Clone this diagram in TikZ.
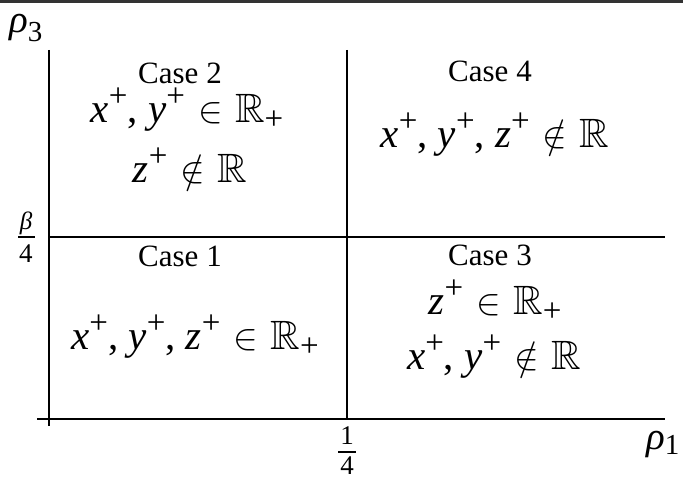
\documentclass[tikz,border=0pt]{standalone}
\usepackage{amssymb}
\usepackage{fontspec}
\setmainfont{Liberation Serif}
\newcommand\plsup{\raisebox{0.4em}{\fontsize{33}{33}\selectfont +}}
\newcommand\plsub{\raisebox{-0.17em}{\fontsize{33}{33}\selectfont +}}
\newcommand\vx{\textit{x}\plsup}
\newcommand\vy{\textit{y}\plsup}
\newcommand\vz{\textit{z}\plsup}
\newcommand\inrel{\hspace{0.32em}\scalebox{3.7}{\fontsize{10}{12}\selectfont$\in$}\hspace{0.3em}}
\newcommand\ninrel{\hspace{0.32em}\scalebox{3.7}{\fontsize{10}{12}\selectfont$\notin$}\hspace{0.3em}}
\newcommand\RR{{\usefont{U}{msb}{m}{n}R}}
\begin{document}
\begin{tikzpicture}[x=1pt,y=1pt,
  axis/.style={line width=1.2pt, black},
  casetxt/.style={font=\fontsize{31}{34}\selectfont, anchor=base, inner sep=0pt},
  mathtxt/.style={font=\fontsize{41}{45}\selectfont, anchor=base, inner sep=0pt},
  rholab/.style={font=\fontsize{39}{42}\selectfont\itshape, anchor=base west, inner sep=0pt},
  fraclab/.style={font=\fontsize{27}{30}\selectfont, anchor=base, inner sep=0pt},
  fracbar/.style={line width=2pt, black},
]
\useasboundingbox (0,0) rectangle (683,479);
\draw[line width=3pt, black!80] (0,477.5) -- (683,477.5);
% axes
\coordinate (vtop) at (49,429);
\coordinate (vbot) at (49,53);
\coordinate (hleft) at (37,60);
\coordinate (hright) at (665,60);
\coordinate (mtop) at (347,429);
\coordinate (mbot) at (347,60);
\coordinate (mleft) at (49,242);
\coordinate (mright) at (665,242);
\draw[axis] (vtop) -- (vbot);
\draw[axis] (hleft) -- (hright);
\draw[axis] (mtop) -- (mbot);
\draw[axis] (mleft) -- (mright);
% axis labels
\node[rholab] (r3) at (9,446) {ρ\raisebox{-9pt}{\upshape\fontsize{29}{29}\selectfont 3}};
\node[rholab] (r1) at (646,29) {ρ\raisebox{-5pt}{\upshape\fontsize{29}{29}\selectfont 1}};
% beta/4
\node[fraclab, font=\fontsize{25}{28}\selectfont\itshape] (bnum) at (26,249) {β};
\coordinate (bbl) at (18,242);
\coordinate (bbr) at (35,242);
\draw[fracbar] (bbl) -- (bbr);
\node[fraclab] (bden) at (26,216) {4};
% 1/4
\node[fraclab] (qnum) at (347,34) {1};
\coordinate (qbl) at (338,27);
\coordinate (qbr) at (356,27);
\draw[fracbar] (qbl) -- (qbr);
\node[fraclab] (qden) at (347,4) {4};
% case 2
\node[casetxt] (c2) at (180,395) {Case 2};
\node[mathtxt] (c2a) at (187,356) {\vx, \vy\inrel\RR\plsub};
\node[mathtxt] (c2b) at (190,296) {\vz\ninrel\RR};
% case 4
\node[casetxt] (c4) at (490,397) {Case 4};
\node[mathtxt] (c4a) at (495,331) {\vx, \vy, \vz\ninrel\RR};
% case 1
\node[casetxt] (c1) at (180,212) {Case 1};
\node[mathtxt] (c1a) at (195,129) {\vx, \vy, \vz\inrel\RR\plsub};
% case 3
\node[casetxt] (c3) at (490,213) {Case 3};
\node[mathtxt] (c3a) at (495,164) {\vz\inrel\RR\plsub};
\node[mathtxt] (c3b) at (494,109) {\vx, \vy\ninrel\RR};
\end{tikzpicture}
\end{document}
